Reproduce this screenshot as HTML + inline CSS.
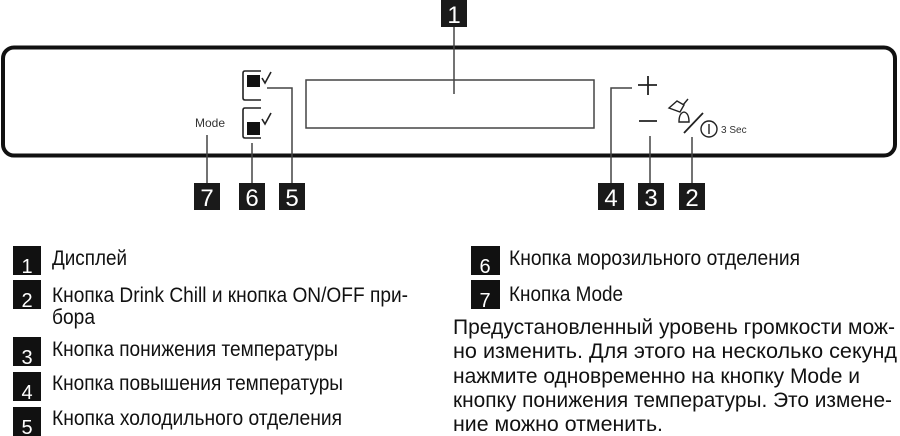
<!DOCTYPE html>
<html><head><meta charset="utf-8"><style>
html,body{margin:0;padding:0;background:#fff;width:900px;height:436px;overflow:hidden}
svg{display:block}
text{font-family:"Liberation Sans",sans-serif}
</style></head><body>
<svg width="900" height="436" viewBox="0 0 900 436" xmlns="http://www.w3.org/2000/svg">
<rect x="3" y="47.5" width="892" height="108" rx="11" fill="none" stroke="#111" stroke-width="4"/>
<rect x="306" y="80" width="288" height="48" fill="none" stroke="#444" stroke-width="1.5"/>
<g stroke="#444" stroke-width="1.5" fill="none">
<line x1="454" y1="26" x2="454" y2="94"/>
<polyline points="267,88 292,88 292,183"/>
<line x1="252" y1="143" x2="252" y2="183"/>
<line x1="207" y1="135" x2="207" y2="183"/>
<polyline points="632,88 611,88 611,183"/>
<line x1="650" y1="136" x2="650" y2="183"/>
<line x1="692" y1="137" x2="692" y2="183"/>
</g>
<g fill="none" stroke="#222" stroke-width="1.6">
<path d="M261,71 H245 Q243,71 243,73 V98 Q243,100 245,100 H261"/>
<path d="M261,108 H245 Q243,108 243,110 V136 Q243,138 245,138 H261"/>
<path d="M262,78 L265,83 L271,72"/>
<path d="M262,119 L265,124 L271,113"/>
</g>
<rect x="247" y="75" width="13" height="12" fill="#111"/>
<rect x="247" y="122" width="13" height="13" fill="#111"/>
<text x="210" y="127" font-size="12" text-anchor="middle" fill="#333">Mode</text>
<g stroke="#222" stroke-width="1.8">
<line x1="638" y1="85" x2="657" y2="85"/><line x1="648" y1="76" x2="648" y2="95"/>
<line x1="639" y1="121" x2="657" y2="121"/>
<line x1="684" y1="133" x2="703" y2="113"/>
</g>
<g fill="none" stroke="#222" stroke-width="1.4">
<path d="M669,108 L677,101 L684,105 L680,112 Z"/>
<path d="M683,105 L688,99"/>
<path d="M679,122 Q679,113 684,112 Q689,113 689,122 Z"/>
<circle cx="709" cy="129" r="8"/>
<line x1="709" y1="124" x2="709" y2="134"/>
</g>
<text x="721" y="133" font-size="10" fill="#333">3 Sec</text>
<g fill="#1a1a1a">
<rect x="441" y="0" width="26" height="27"/>
<rect x="194" y="183" width="26" height="27"/>
<rect x="239" y="183" width="26" height="27"/>
<rect x="279" y="183" width="26" height="27"/>
<rect x="598" y="183" width="26" height="27"/>
<rect x="638" y="183" width="26" height="27"/>
<rect x="679" y="183" width="26" height="27"/>
</g>
<g fill="#fff" font-size="24" text-anchor="middle">
<text x="454" y="23">1</text>
<text x="207" y="206">7</text>
<text x="252" y="206">6</text>
<text x="292" y="206">5</text>
<text x="611" y="206">4</text>
<text x="651" y="206">3</text>
<text x="692" y="206">2</text>
</g>
<g fill="#111">
<rect x="13" y="246" width="28" height="29"/>
<rect x="13" y="280" width="28" height="29"/>
<rect x="13" y="337" width="28" height="29"/>
<rect x="13" y="372" width="28" height="29"/>
<rect x="13" y="407" width="28" height="29"/>
<rect x="471" y="246" width="29" height="29"/>
<rect x="471" y="280" width="29" height="29"/>
</g>
<g fill="#fff" font-size="20" text-anchor="middle">
<text x="27" y="273">1</text>
<text x="27" y="307">2</text>
<text x="27" y="364">3</text>
<text x="27" y="399">4</text>
<text x="27" y="434">5</text>
<text x="485" y="273">6</text>
<text x="485" y="307">7</text>
</g>
<g fill="#111" font-size="21">
<text x="52" y="265" textLength="75" lengthAdjust="spacingAndGlyphs">Дисплей</text>
<text x="52" y="302" textLength="356" lengthAdjust="spacingAndGlyphs">Кнопка Drink Chill и кнопка ON/OFF при-</text>
<text x="52" y="324" textLength="43" lengthAdjust="spacingAndGlyphs">бора</text>
<text x="52" y="356" textLength="286" lengthAdjust="spacingAndGlyphs">Кнопка понижения температуры</text>
<text x="52" y="390" textLength="291" lengthAdjust="spacingAndGlyphs">Кнопка повышения температуры</text>
<text x="52" y="425" textLength="290" lengthAdjust="spacingAndGlyphs">Кнопка холодильного отделения</text>
<text x="509" y="265" textLength="291" lengthAdjust="spacingAndGlyphs">Кнопка морозильного отделения</text>
<text x="509" y="301" textLength="114" lengthAdjust="spacingAndGlyphs">Кнопка Mode</text>
<text x="453" y="334" textLength="442" lengthAdjust="spacingAndGlyphs">Предустановленный уровень громкости мож-</text>
<text x="453" y="358" textLength="444" lengthAdjust="spacingAndGlyphs">но изменить. Для этого на несколько секунд</text>
<text x="453" y="383" textLength="407" lengthAdjust="spacingAndGlyphs">нажмите одновременно на кнопку Mode и</text>
<text x="453" y="407" textLength="439" lengthAdjust="spacingAndGlyphs">кнопку понижения температуры. Это измене-</text>
<text x="453" y="431" textLength="210" lengthAdjust="spacingAndGlyphs">ние можно отменить.</text>
</g>
</svg>
</body></html>
